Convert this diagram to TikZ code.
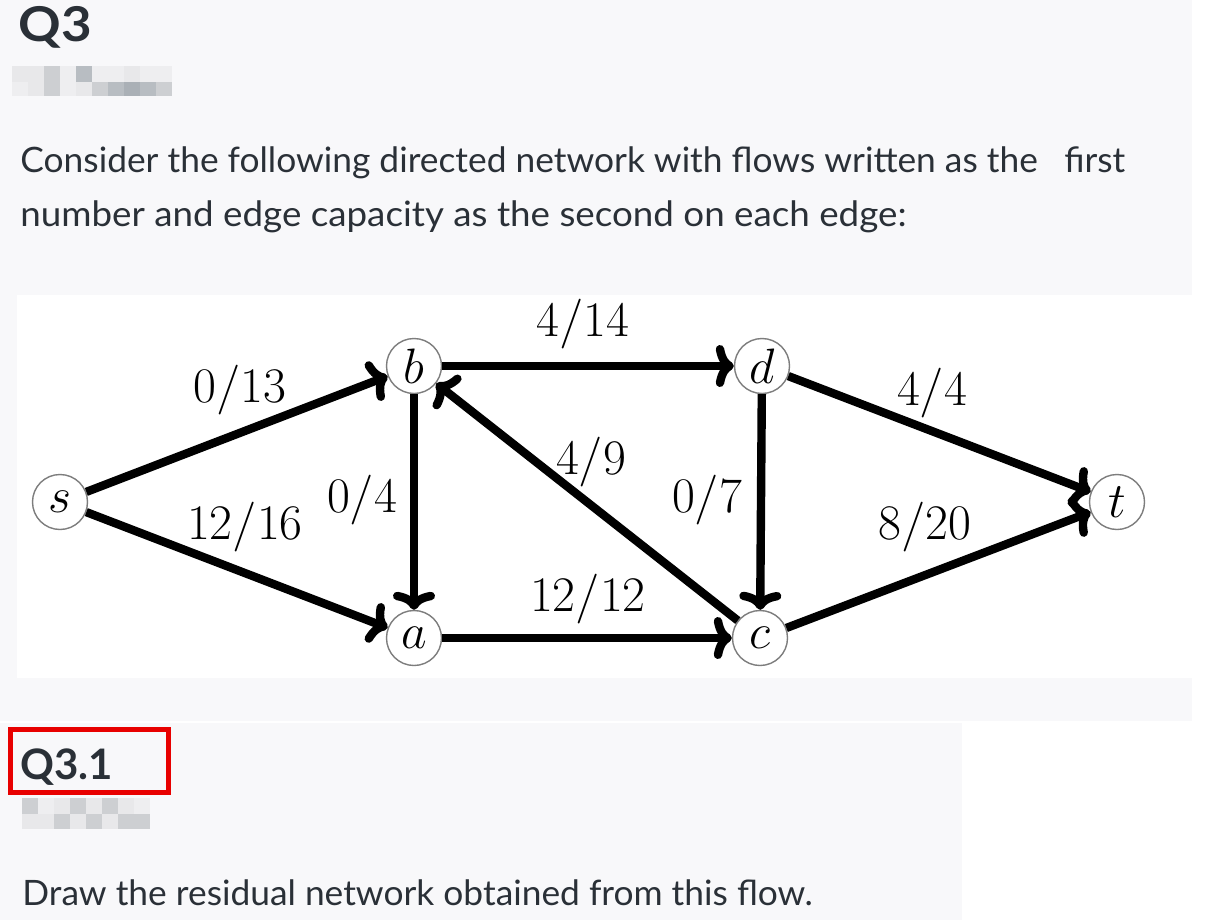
\documentclass[tikz,border=0pt]{standalone}
\usepackage[no-math]{fontspec}
\newfontfamily\uifont{Lato}
\usetikzlibrary{arrows.meta}
\definecolor{panel}{RGB}{248,248,250}
\definecolor{ink}{RGB}{42,48,55}
\definecolor{ring}{RGB}{125,125,125}
\definecolor{redbox}{RGB}{232,0,0}
\definecolor{px1}{RGB}{232,232,234}
\definecolor{px2}{RGB}{205,207,210}
\definecolor{px3}{RGB}{184,189,194}
\definecolor{px4}{RGB}{170,176,182}
\definecolor{px5}{RGB}{238,238,240}
\begin{document}
\begin{tikzpicture}[x=0.5pt,y=-0.5pt,
  vtx/.style={circle, draw=ring, line width=0.7pt, fill=white, minimum size=27.5pt, inner sep=0pt, font=\fontsize{23}{23}\selectfont},
  flow/.style={line width=4.2pt, -{To[length=9pt,width=21pt]}},
  lab/.style={font=\fontsize{26}{26}\selectfont, inner sep=0pt},
  ui/.style={anchor=base west, inner sep=0pt, text=ink, font=\uifont\fontsize{17.5}{17.5}\selectfont},
  head/.style={anchor=base west, inner sep=0pt, text=ink, font=\uifont\bfseries\fontsize{24}{24}\selectfont}]
\useasboundingbox (0,0) rectangle (1220,920);
% panels
\fill[white] (0,0) rectangle (1220,920);
\fill[panel] (0,0) rectangle (1192,721);
\fill[white] (17,295) rectangle (1220,678);
\fill[panel] (0,723) rectangle (962,920);
% headings and text
\node[head] (q3) at (18,42) {\scalebox{1.1}[1]{Q3}};
\foreach \x/\c in {12/px1,28/px1,44/px2,60/px5,76/px3,92/px5,108/px5,124/px1,140/px5,156/px5}
  \fill[\c] (\x,66) rectangle ++(16,16);
\foreach \x/\c in {12/px5,28/px1,44/px2,60/px5,76/px1,92/px2,108/px3,124/px4,140/px3,156/px2}
  \fill[\c] (\x,82) rectangle ++(16,14);
\node[ui] (line1) at (20,172) {\scalebox{1.01}[1]{Consider the following directed network with flows written as the\hspace{13pt}first}};
\node[ui] (line2) at (20,226) {\scalebox{1.05}[1]{number and edge capacity as the second on each edge:}};
% graph
\node[vtx] (s) at (60,502) {$s$};
\node[vtx] (b) at (414,366) {$b$};
\node[vtx] (a) at (414,638) {$a$};
\node[vtx] (d) at (762,366) {$d$};
\node[vtx] (c) at (760,638) {$c$};
\node[vtx] (t) at (1117,502) {$t$};
\draw[flow] (s) -- (b);
\draw[flow] (s) -- (a);
\draw[flow] (b) -- (a);
\draw[flow] (b) -- (d);
\draw[flow] (c) -- (b);
\draw[flow] (a) -- (c);
\draw[flow] (d) -- (c);
\draw[flow] (d) -- (t);
\draw[flow] (c) -- (t);
\node[lab] (l1) at (240,390) {$0/13$};
\node[lab] (l2) at (245,527) {$12/16$};
\node[lab] (l3) at (362,500) {$0/4$};
\node[lab] (l4) at (583,324) {$4/14$};
\node[lab] (l5) at (591,462) {$4/9$};
\node[lab] (l6) at (588,599) {$12/12$};
\node[lab] (l7) at (707,500) {$0/7$};
\node[lab] (l8) at (932,393) {$4/4$};
\node[lab] (l9) at (925,527) {$8/20$};
% lower panel
\draw[redbox, line width=2.5pt] (10.5,729.5) rectangle (168.5,792.5);
\node[head, font=\uifont\bfseries\fontsize{21}{21}\selectfont] (q31) at (20,779) {Q3.1};
\foreach \x/\c in {22/px2,38/px5,54/px1,70/px2,86/px1,102/px2,118/px1,134/px5}
  \fill[\c] (\x,798) rectangle ++(16,16);
\foreach \x/\c in {22/px1,38/px1,54/px2,70/px1,86/px2,102/px1,118/px2,134/px2}
  \fill[\c] (\x,814) rectangle ++(16,15);
\node[ui] (line3) at (22,905) {\scalebox{1.01}[1]{Draw the residual network obtained from this flow.}};
\end{tikzpicture}
\end{document}
